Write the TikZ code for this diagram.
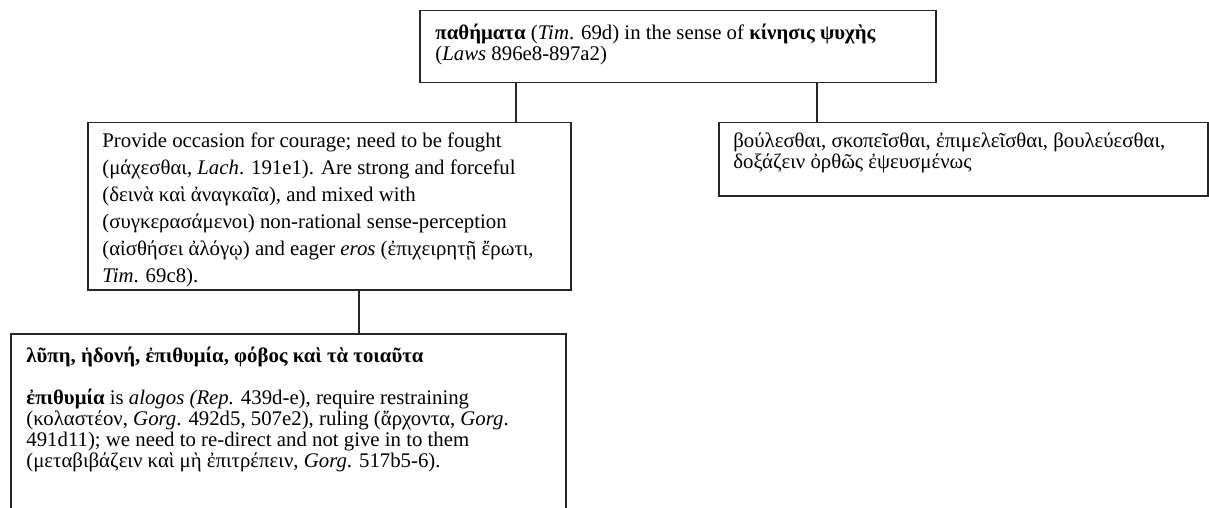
\documentclass[tikz,border=0pt]{standalone}
\usepackage{fontspec}
\setmainfont{Liberation Serif}
\begin{document}
\begin{tikzpicture}[x=0.5pt, y=-0.5pt,
    box/.style={draw=black!85, line width=0.75pt, anchor=north west, inner sep=0pt},
    txt/.style={anchor=north west, inner sep=0pt, align=left,
                font=\fontsize{10.4}{10.5}\selectfont},
    loose/.style={txt, font=\fontsize{10.4}{13.5}\selectfont},
    ln/.style={draw=black!85, line width=0.55pt},
  ]
    \useasboundingbox (0,0) rectangle (1209,508);
    \clip (0,0) rectangle (1209,508);

    % frames
    \node[box, minimum width=258pt, minimum height=36pt] (top) at (419,10) {};
    \node[box, minimum width=241.5pt, minimum height=83.5pt] (lbox) at (87,122) {};
    \node[box, minimum width=244.5pt, minimum height=36.5pt] (rbox) at (718,122) {};
    \node[box, minimum width=277.5pt, minimum height=95pt] (bbox) at (10,333) {};

    % connectors
    \coordinate (c1) at (516,0);
    \coordinate (c2) at (817,0);
    \coordinate (c3) at (359,0);
    \draw[ln] (top.south -| c1) -- (lbox.north -| c1);
    \draw[ln] (top.south -| c2) -- (rbox.north -| c2);
    \draw[ln] (lbox.south -| c3) -- (bbox.north -| c3);

    % texts
    \node[txt] (toptxt) at (435,24) {\textbf{παθήματα} (\textit{Tim}. 69d) in the sense of \textbf{κίνησις ψυχὴς}\\
      (\textit{Laws} 896e8-897a2)};
    \node[loose] (ltxt) at (102,132) {Provide occasion for courage; need to be fought\\
      (μάχεσθαι, \textit{Lach}. 191e1). Are strong and forceful\\
      (δεινὰ καὶ ἀναγκαῖα), and mixed with\\
      (συγκερασάμενοι) non-rational sense-perception\\
      (αἰσθήσει ἀλόγῳ) and eager \textit{eros} (ἐπιχειρητῇ ἔρωτι,\\
      \textit{Tim}. 69c8).};
    \node[txt] (rtxt) at (733,132) {βούλεσθαι, σκοπεῖσθαι, ἐπιμελεῖσθαι, βουλεύεσθαι,\\
      δοξάζειν ὀρθῶς ἐψευσμένως};
    \node[txt] (btxt) at (26,347) {\textbf{λῦπη, ἡδονή, ἐπιθυμία, φόβος καὶ τὰ τοιαῦτα}\\[10.5pt]
      \textbf{ἐπιθυμία} is \textit{alogos (Rep.} 439d-e), require restraining\\
      (κολαστέον, \textit{Gorg}. 492d5, 507e2), ruling (ἄρχοντα, \textit{Gorg}.\\
      491d11); we need to re-direct and not give in to them\\
      (μεταβιβάζειν καὶ μὴ ἐπιτρέπειν, \textit{Gorg}. 517b5-6).};
\end{tikzpicture}
\end{document}
